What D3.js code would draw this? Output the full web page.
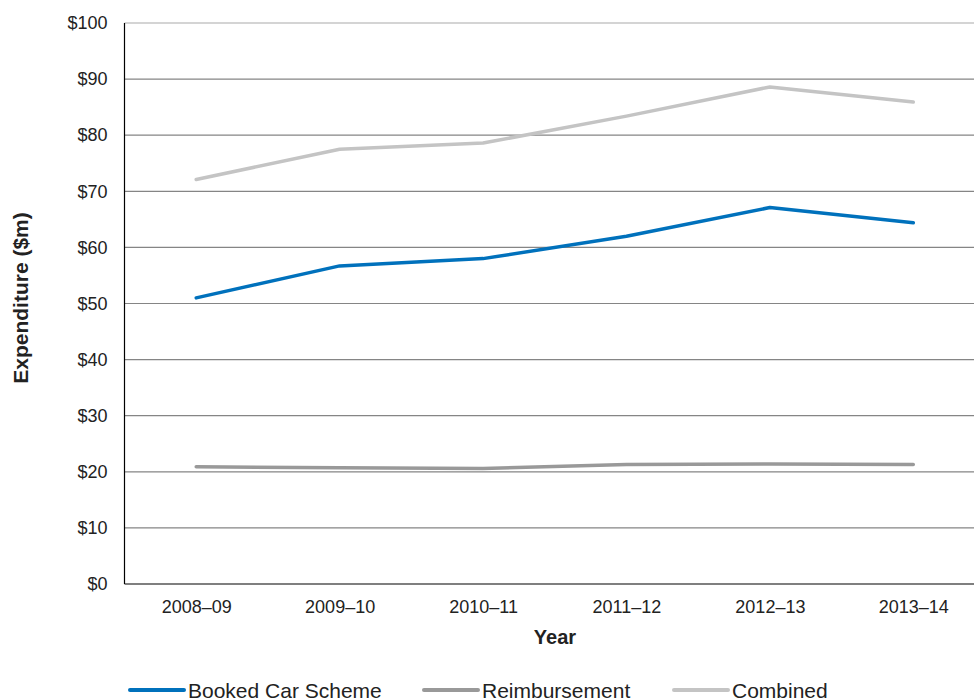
<!DOCTYPE html>
<html>
<head>
<meta charset="utf-8">
<script src="https://cdn.jsdelivr.net/npm/d3@7"></script>
<style>
  html, body { margin: 0; padding: 0; background: #fff; }
  svg { display: block; font-family: "Liberation Sans", Arial, sans-serif; }
</style>
</head>
<body>
<svg id="chart" width="974" height="699"></svg>
<script>
// Financial years on the x axis
const years = ["2008–09", "2009–10", "2010–11", "2011–12", "2012–13", "2013–14"];

// Expenditure in $m for each scheme
const bookedCar = [51.0, 56.7, 58.0, 62.0, 67.1, 64.4];
const reimbursement = [20.9, 20.7, 20.6, 21.3, 21.4, 21.3];
const combined = [72.1, 77.5, 78.6, 83.4, 88.6, 85.9];

const yTicks = [0, 10, 20, 30, 40, 50, 60, 70, 80, 90, 100];

const series = [
  { name: "Booked Car Scheme", values: bookedCar, color: "#0071bc" },
  { name: "Reimbursement", values: reimbursement, color: "#999999" },
  { name: "Combined", values: combined, color: "#c4c4c4" }
];

const svg = d3.select("#chart");
const plotLeft = 124.5, plotRight = 985, plotTop = 23, plotBottom = 584;

const x = d3.scalePoint().domain(years).range([plotLeft, plotRight]).padding(0.5);
const y = d3.scaleLinear().domain([0, 100]).range([plotBottom, plotTop]);

// Horizontal gridlines
svg.append("g")
  .selectAll("line")
  .data(yTicks.filter(d => d > 0))
  .join("line")
  .attr("x1", plotLeft).attr("x2", 974)
  .attr("y1", d => y(d)).attr("y2", d => y(d))
  .attr("stroke", d => d === 100 ? "#aaaaaa" : "#858585")
  .attr("stroke-width", 1.2);

// Y axis labels
const yAxis = svg.append("g")
  .attr("transform", `translate(${plotLeft},0)`)
  .call(d3.axisLeft(y).tickValues(yTicks).tickFormat(d => "$" + d).tickSize(0).tickPadding(17));
yAxis.select(".domain").remove();
yAxis.selectAll("text")
  .attr("font-size", 18)
  .attr("fill", "#222")
  .attr("font-family", "Liberation Sans, Arial, sans-serif");

// X axis labels
const xAxis = svg.append("g")
  .attr("transform", `translate(0,${plotBottom})`)
  .call(d3.axisBottom(x).tickSize(0).tickPadding(16));
xAxis.select(".domain").remove();
xAxis.selectAll("text")
  .attr("font-size", 18)
  .attr("fill", "#222")
  .attr("font-family", "Liberation Sans, Arial, sans-serif");

// Axis lines
svg.append("line")
  .attr("x1", plotLeft).attr("x2", plotLeft).attr("y1", plotTop).attr("y2", plotBottom)
  .attr("stroke", "#000").attr("stroke-width", 1.2);
svg.append("line")
  .attr("x1", plotLeft).attr("x2", 974).attr("y1", plotBottom).attr("y2", plotBottom)
  .attr("stroke", "#000").attr("stroke-width", 1.2);

// Axis titles
svg.append("text")
  .attr("x", 555).attr("y", 644)
  .attr("text-anchor", "middle")
  .attr("font-size", 20).attr("font-weight", "bold").attr("fill", "#222")
  .text("Year");
svg.append("text")
  .attr("transform", `translate(28,298) rotate(-90)`)
  .attr("text-anchor", "middle")
  .attr("font-size", 21).attr("font-weight", "bold").attr("fill", "#222")
  .text("Expenditure ($m)");

// Series lines
const line = d3.line()
  .x((d, i) => x(years[i]))
  .y(d => y(d));

svg.append("g")
  .selectAll("path")
  .data(series)
  .join("path")
  .attr("d", d => line(d.values))
  .attr("fill", "none")
  .attr("stroke", d => d.color)
  .attr("stroke-width", 3.5)
  .attr("stroke-linejoin", "round")
  .attr("stroke-linecap", "round");

// Legend
const legendX = [130, 424, 674];
const legend = svg.append("g")
  .selectAll("g")
  .data(series)
  .join("g")
  .attr("transform", (d, i) => `translate(${legendX[i]},690)`);
legend.append("line")
  .attr("x1", 0).attr("x2", 54).attr("y1", 0).attr("y2", 0)
  .attr("stroke", d => d.color).attr("stroke-width", 4)
  .attr("stroke-linecap", "round");
legend.append("text")
  .attr("x", 58).attr("y", 7.5)
  .attr("font-size", 21).attr("fill", "#222")
  .text(d => d.name);
</script>
</body>
</html>
